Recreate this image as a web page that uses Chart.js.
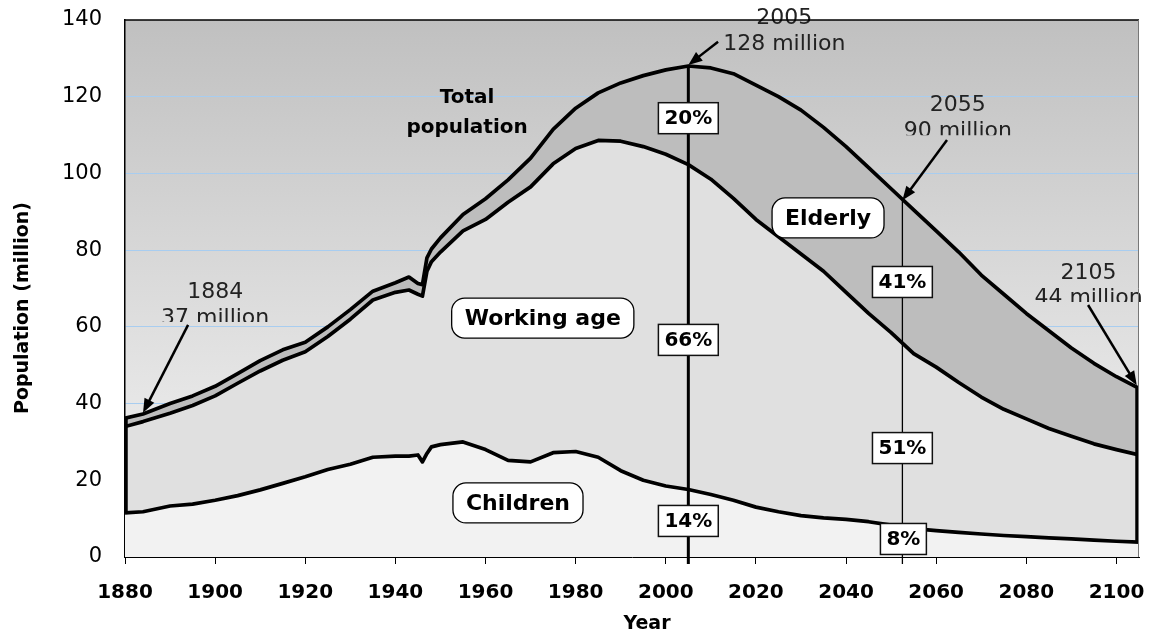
<!DOCTYPE html>
<html>
<head>
<meta charset="utf-8">
<script src="https://cdn.jsdelivr.net/npm/chart.js@4.4.0/dist/chart.umd.min.js"></script>
<style>
  html, body { margin: 0; padding: 0; background: #fff; }
  #wrap { width: 1149px; height: 635px; position: relative; }
</style>
</head>
<body>
<div id="wrap"><canvas id="myChart"></canvas></div>
<script>
// population of Japan, million
const years = [1880, 1884, 1890, 1895, 1900, 1905, 1910, 1915, 1920, 1925, 1930, 1935, 1940, 1943, 1945, 1946, 1947, 1948, 1950, 1955,
  1960, 1965, 1970, 1975, 1980, 1985, 1990, 1995, 2000, 2005, 2010, 2015, 2020, 2025, 2030, 2035, 2040, 2045, 2050, 2055,
  2060, 2065, 2070, 2075, 2080, 2085, 2090, 2095, 2100, 2105];
const children = [11.5, 11.8, 13.3, 13.8, 14.8, 16.0, 17.5, 19.2, 20.9, 22.8, 24.2, 26.0, 26.3, 26.3, 26.6, 24.8, 27.0, 28.7, 29.3, 30.0,
  28.0, 25.2, 24.8, 27.2, 27.5, 26.0, 22.5, 20.0, 18.5, 17.6, 16.3, 14.8, 13.0, 11.8, 10.8, 10.2, 9.8, 9.2, 8.3, 7.4,
  6.9, 6.4, 6.0, 5.6, 5.3, 5.0, 4.7, 4.4, 4.1, 3.9];
const workingAge = [22.5, 23.5, 24.2, 25.7, 27.2, 29.3, 31.0, 32.1, 32.6, 34.7, 37.8, 41.0, 42.7, 43.3, 41.9, 43.2, 47.5, 48.3, 50.2, 55.0,
  60.0, 67.3, 71.7, 75.3, 79.0, 82.6, 85.9, 87.0, 86.5, 84.7, 82.2, 78.7, 75.0, 71.7, 68.2, 64.3, 59.2, 54.3, 50.2, 45.6,
  42.6, 39.1, 35.7, 32.9, 30.7, 28.5, 26.8, 25.1, 23.9, 22.7];
const elderly = [2.2, 2.0, 2.5, 2.5, 2.5, 2.5, 2.7, 2.7, 2.5, 2.5, 2.5, 2.3, 2.5, 3.4, 2.8, 3.0, 3.5, 3.3, 3.7, 4.3,
  5.4, 5.8, 7.5, 9.0, 10.5, 12.4, 15.2, 18.5, 22.0, 25.7, 29.0, 32.5, 35.0, 36.5, 37.5, 37.5, 38.0, 38.0, 37.5, 37.5,
  35.5, 34.0, 31.8, 30.0, 27.5, 25.5, 23.0, 21.0, 19.0, 17.4];

const xTicks = [1880, 1900, 1920, 1940, 1960, 1980, 2000, 2020, 2040, 2060, 2080, 2100];
const yTicks = [0, 20, 40, 60, 80, 100, 120, 140];

const markerYears = [2005, 2052.5];
const shares2005 = ["14%", "66%", "20%"];
const shares2055 = ["8%", "51%", "41%"];
const callouts = [
  ["1884", "37 million"],
  ["2005", "128 million"],
  ["2055", "90 million"],
  ["2105", "44 million"],
];

const FONT = "'DejaVu Sans', Arial, sans-serif";

function pts(arr) {
  return years.map((yr, i) => ({ x: yr, y: arr[i] }));
}

function totalAt(yr) {
  const tot = years.map((_, i) => children[i] + workingAge[i] + elderly[i]);
  for (let i = 0; i < years.length - 1; i++) {
    if (yr >= years[i] && yr <= years[i + 1]) {
      const t = (yr - years[i]) / (years[i + 1] - years[i]);
      return tot[i] + t * (tot[i + 1] - tot[i]);
    }
  }
  return tot[tot.length - 1];
}

function arrow(ctx, x1, y1, x2, y2) {
  const ang = Math.atan2(y2 - y1, x2 - x1);
  const len = 14, w = 5.5;
  ctx.beginPath();
  ctx.moveTo(x1, y1);
  ctx.lineTo(x2 - Math.cos(ang) * len * 0.7, y2 - Math.sin(ang) * len * 0.7);
  ctx.stroke();
  ctx.beginPath();
  ctx.moveTo(x2, y2);
  ctx.lineTo(x2 - len * Math.cos(ang) + w * Math.sin(ang), y2 - len * Math.sin(ang) - w * Math.cos(ang));
  ctx.lineTo(x2 - len * Math.cos(ang) - w * Math.sin(ang), y2 - len * Math.sin(ang) + w * Math.cos(ang));
  ctx.closePath();
  ctx.fill();
}

function roundBox(ctx, cx, cy, text, r) {
  ctx.font = "bold 22px " + FONT;
  const w = ctx.measureText(text).width + 26, h = 40;
  const x0 = cx - w / 2, y0 = cy - h / 2;
  ctx.beginPath();
  ctx.moveTo(x0 + r, y0);
  ctx.arcTo(x0 + w, y0, x0 + w, y0 + h, r);
  ctx.arcTo(x0 + w, y0 + h, x0, y0 + h, r);
  ctx.arcTo(x0, y0 + h, x0, y0, r);
  ctx.arcTo(x0, y0, x0 + w, y0, r);
  ctx.closePath();
  ctx.fillStyle = "#fff";
  ctx.fill();
  ctx.lineWidth = 1.3;
  ctx.strokeStyle = "#000";
  ctx.stroke();
  ctx.fillStyle = "#000";
  ctx.textAlign = "center";
  ctx.textBaseline = "middle";
  ctx.fillText(text, cx, cy + 1);
}

function pctBox(ctx, cx, cy, text) {
  ctx.font = "bold 20px " + FONT;
  const w = ctx.measureText(text).width + 12, h = 31;
  ctx.fillStyle = "#fff";
  ctx.fillRect(cx - w / 2, cy - h / 2, w, h);
  ctx.lineWidth = 1.5;
  ctx.strokeStyle = "#111";
  ctx.strokeRect(cx - w / 2, cy - h / 2, w, h);
  ctx.fillStyle = "#000";
  ctx.textAlign = "center";
  ctx.textBaseline = "middle";
  ctx.fillText(text, cx, cy + 1);
}

function callout(ctx, cx, cy1, cy2, lines, clipBottom) {
  ctx.font = "22px " + FONT;
  ctx.fillStyle = "#222";
  ctx.textAlign = "center";
  ctx.textBaseline = "middle";
  ctx.fillText(lines[0], cx, cy1);
  ctx.save();
  if (clipBottom) {
    ctx.beginPath();
    ctx.rect(cx - 100, cy2 - 20, 200, 24);
    ctx.clip();
  }
  ctx.fillText(lines[1], cx, cy2);
  ctx.restore();
}

const overlay = {
  id: "overlay",
  beforeDraw(chart) {
    const { ctx, chartArea: a } = chart;
    const g = ctx.createLinearGradient(0, a.top, 0, a.bottom);
    g.addColorStop(0, "#c0c0c0");
    g.addColorStop(1, "#f6f6f6");
    ctx.save();
    ctx.fillStyle = g;
    ctx.fillRect(a.left, a.top, a.right - a.left, a.bottom - a.top);
    ctx.restore();
  },
  afterDatasetsDraw(chart) {
    const { ctx, chartArea: a, scales: { x, y } } = chart;
    ctx.save();
    ctx.lineCap = "butt";

    // edges of the stacked area
    const first = 0, last = years.length - 1;
    ctx.strokeStyle = "#000";
    ctx.lineWidth = 3.5;
    ctx.beginPath();
    ctx.moveTo(x.getPixelForValue(years[first]) + 1, y.getPixelForValue(children[first]));
    ctx.lineTo(x.getPixelForValue(years[first]) + 1, y.getPixelForValue(totalAt(years[first])));
    ctx.moveTo(x.getPixelForValue(years[last]) - 2, y.getPixelForValue(children[last]));
    ctx.lineTo(x.getPixelForValue(years[last]) - 2, y.getPixelForValue(totalAt(years[last])));
    ctx.stroke();

    // marker lines
    ctx.lineWidth = 3;
    let mx = x.getPixelForValue(markerYears[0]);
    ctx.beginPath();
    ctx.moveTo(mx, a.bottom + 7);
    ctx.lineTo(mx, y.getPixelForValue(totalAt(markerYears[0])));
    ctx.stroke();
    ctx.lineWidth = 1.3;
    mx = x.getPixelForValue(markerYears[1]);
    ctx.beginPath();
    ctx.moveTo(mx, a.bottom + 7);
    ctx.lineTo(mx, y.getPixelForValue(totalAt(markerYears[1])));
    ctx.stroke();

    // share boxes
    const px = (v) => x.getPixelForValue(v), py = (v) => y.getPixelForValue(v);
    pctBox(ctx, px(markerYears[0]), py(9.4), shares2005[0]);
    pctBox(ctx, px(markerYears[0]), py(56.6), shares2005[1]);
    pctBox(ctx, px(markerYears[0]), py(114.4), shares2005[2]);
    pctBox(ctx, px(markerYears[1]) + 1, py(4.7), shares2055[0]);
    pctBox(ctx, px(markerYears[1]), py(28.4), shares2055[1]);
    pctBox(ctx, px(markerYears[1]), py(71.7), shares2055[2]);

    // group labels
    roundBox(ctx, px(1972.7), py(62.3), "Working age", 13);
    roundBox(ctx, px(1967.2), py(14.1), "Children", 13);
    roundBox(ctx, px(2036), py(88.4), "Elderly", 13);

    ctx.font = "bold 20px " + FONT;
    ctx.fillStyle = "#000";
    ctx.textAlign = "center";
    ctx.textBaseline = "middle";
    ctx.fillText("Total", px(1955.9), py(119.8));
    ctx.fillText("population", px(1955.9), py(111.8));

    // callouts with arrows
    ctx.strokeStyle = "#000";
    ctx.fillStyle = "#000";
    ctx.lineWidth = 2.5;
    arrow(ctx, px(1894), py(60.5), px(1884), py(37.6));
    arrow(ctx, px(2011.6), py(134.3), px(2005), py(128.3));
    arrow(ctx, px(2062.4), py(108.7), px(2052.5), py(93));
    arrow(ctx, px(2093.7), py(65.7), px(2104.5), py(44.8));

    callout(ctx, px(1900), py(69.1), py(62.3), callouts[0], true);
    callout(ctx, px(2026.3), py(140.5), py(133.7), callouts[1], false);
    callout(ctx, px(2064.8), py(117.8), py(111), callouts[2], true);
    callout(ctx, px(2093.8), py(74), py(67.5), callouts[3], true);

    // plot frame, top and right
    ctx.lineWidth = 1.5;
    ctx.strokeStyle = "#000";
    ctx.beginPath();
    ctx.moveTo(a.left, a.top);
    ctx.lineTo(a.right, a.top);
    ctx.stroke();
    ctx.lineWidth = 1;
    ctx.strokeStyle = "#777";
    ctx.beginPath();
    ctx.moveTo(a.right - 0.5, a.top);
    ctx.lineTo(a.right - 0.5, a.bottom);
    ctx.stroke();

    // axis titles
    ctx.fillStyle = "#000";
    ctx.font = "bold 19px " + FONT;
    ctx.textAlign = "center";
    ctx.textBaseline = "middle";
    ctx.fillText("Year", 647, 624);
    ctx.translate(23, 308);
    ctx.rotate(-Math.PI / 2);
    ctx.fillText("Population (million)", 0, 0);
    ctx.restore();
  },
};

function noPadding(scale) {
  scale.paddingTop = 0;
  scale.paddingBottom = 0;
  scale.paddingLeft = 0;
  scale.paddingRight = 0;
}

const ctx = document.getElementById("myChart").getContext("2d");
const myChart = new Chart(ctx, {
  type: "line",
  data: {
    datasets: [
      { label: "Children", data: pts(children), backgroundColor: "#f2f2f2", fill: "origin" },
      { label: "Working age", data: pts(workingAge), backgroundColor: "#e0e0e0", fill: "-1" },
      { label: "Elderly", data: pts(elderly), backgroundColor: "#bdbdbd", fill: "-1" },
    ],
  },
  options: {
    responsive: true,
    maintainAspectRatio: false,
    animation: false,
    layout: { padding: { left: 0, top: 20, right: 10, bottom: 0 } },
    elements: {
      line: { borderColor: "#000", borderWidth: 3.7, tension: 0, borderJoinStyle: "round" },
      point: { radius: 0, hoverRadius: 0 },
    },
    plugins: { legend: { display: false }, tooltip: { enabled: false } },
    scales: {
      x: {
        type: "linear",
        min: 1880,
        max: 2105,
        afterBuildTicks: (scale) => { scale.ticks = xTicks.map((v) => ({ value: v })); },
        afterFit: (scale) => { scale.height = 78; noPadding(scale); },
        grid: { drawOnChartArea: false, drawTicks: true, tickLength: 7, color: "#000", lineWidth: 1 },
        border: { display: true, color: "#000", width: 1 },
        ticks: {
          color: "#000", font: { family: FONT, size: 20, weight: "bold" }, padding: 17, maxRotation: 0, autoSkip: false,
          callback: (v) => String(v),
        },
      },
      y: {
        stacked: true,
        min: 0,
        max: 140,
        afterBuildTicks: (scale) => { scale.ticks = yTicks.map((v) => ({ value: v })); },
        afterFit: (scale) => { scale.width = 125; noPadding(scale); },
        grid: {
          drawTicks: false,
          color: (c) => (c.tick && c.tick.value > 0 && c.tick.value < 140 ? "#a8cdf0" : "rgba(0,0,0,0)"),
          lineWidth: 1,
        },
        border: { display: true, color: "#000", width: 1.5 },
        ticks: { color: "#000", font: { family: FONT, size: 21 }, padding: 23, callback: (v) => String(v) },
      },
    },
  },
  plugins: [overlay],
});
</script>
</body>
</html>
